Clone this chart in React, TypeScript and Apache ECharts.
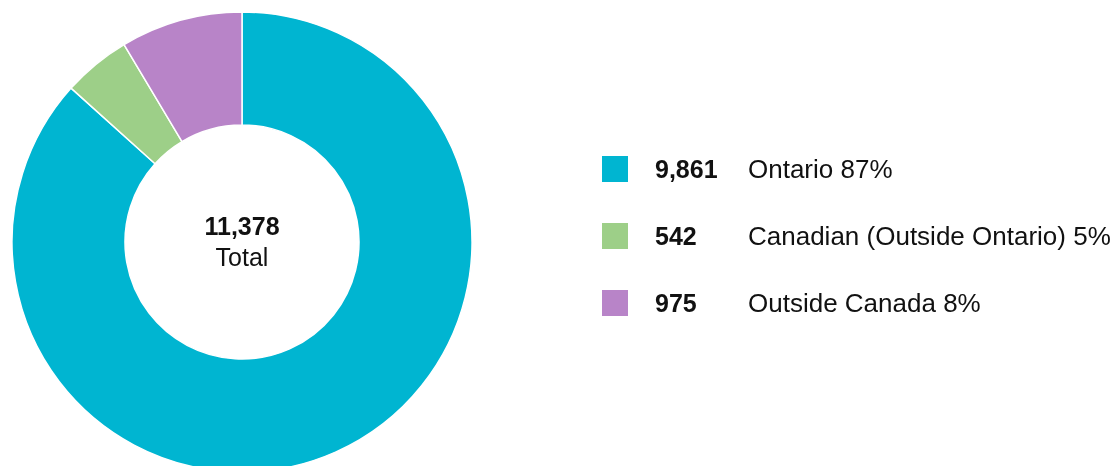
import React, { useEffect, useRef } from "react";
import * as echarts from "echarts";

const categories = ["Ontario", "Canadian (Outside Ontario)", "Outside Canada"];
const values = [9861, 542, 975];
const percentLabels = ["87%", "5%", "8%"];
const colors = ["#00b5d1", "#9dcf88", "#b884c8"];
const totalLabel = "Total";

const FONT = "Liberation Sans";

export default function App() {
  const ref = useRef<HTMLDivElement>(null);
  useEffect(() => {
    if (!ref.current) return;
    const chart = echarts.init(ref.current, undefined, { renderer: "svg" });
    const total = values.reduce((a, b) => a + b, 0);
    const fmt = (n: number) => n.toLocaleString("en-US");
    chart.setOption({
      animation: false,
      color: colors,
      textStyle: { fontFamily: FONT },
      graphic: [
        {
          type: "text",
          x: 242,
          y: 226,
          style: {
            text: fmt(total),
            fontFamily: FONT,
            fontWeight: "bold",
            fontSize: 25,
            fill: "#111",
            align: "center",
            verticalAlign: "middle",
          },
        },
        {
          type: "text",
          x: 242,
          y: 257,
          style: {
            text: totalLabel,
            fontFamily: FONT,
            fontSize: 25,
            fill: "#111",
            align: "center",
            verticalAlign: "middle",
          },
        },
      ],
      legend: {
        orient: "vertical",
        left: 600,
        top: 154,
        padding: 0,
        icon: "rect",
        itemWidth: 28,
        itemHeight: 28,
        itemGap: 37,
        selectedMode: false,
        data: categories,
        formatter: (name: string) => {
          const i = categories.indexOf(name);
          return `{num|${fmt(values[i])}}{lab|${name} ${percentLabels[i]}}`;
        },
        textStyle: {
          fontFamily: FONT,
          rich: {
            num: {
              fontFamily: FONT,
              fontWeight: "bold",
              fontSize: 25,
              color: "#111",
              width: 93,
              padding: [0, 0, 0, 21],
              lineHeight: 28,
              height: 28,
            },
            lab: {
              fontFamily: FONT,
              fontSize: 26,
              color: "#111",
              lineHeight: 28,
              height: 28,
            },
          },
        },
      },
      series: [
        {
          type: "pie",
          center: [242, 242],
          radius: [117, 230],
          startAngle: 90,
          clockwise: true,
          label: { show: false },
          labelLine: { show: false },
          emphasis: { disabled: true },
          itemStyle: { borderColor: "#ffffff", borderWidth: 1.5 },
          data: categories.map((c, i) => ({ name: c, value: values[i] })),
        },
      ],
    });
    return () => chart.dispose();
  }, []);
  return (
    <div
      ref={ref}
      style={{ position: "fixed", left: 0, top: 0, width: 1116, height: 466 }}
    />
  );
}
